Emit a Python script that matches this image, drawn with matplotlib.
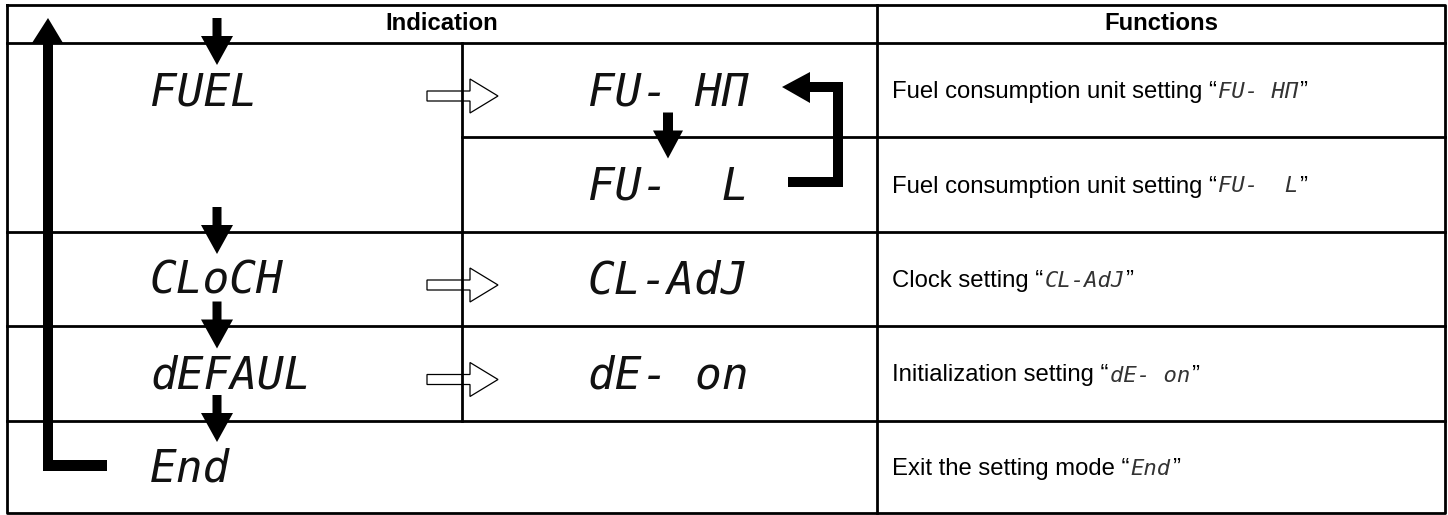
import matplotlib
matplotlib.use("Agg")
import matplotlib.pyplot as plt
from matplotlib.patches import Polygon

# table content
headers = ["Indication", "Functions"]
menu_codes = ["FUEL", "CLoCH", "dEFAUL", "End"]
menu_rows = [0, 2, 3, 4]
sub_codes = ["FU- HΠ", "FU-  L", "CL-AdJ", "dE- on"]
sub_rows = [0, 1, 2, 3]
func_texts = ["Fuel consumption unit setting",
              "Fuel consumption unit setting",
              "Clock setting",
              "Initialization setting",
              "Exit the setting mode"]
func_codes = ["FU- HΠ", "FU-  L", "CL-AdJ", "dE- on", "End"]
hollow_rows = [0, 2, 3]

# layout (pixels)
W, H = 1448, 515
x_left, x_mid, x_func, x_right = 7, 462, 877, 1445
y_top, y_head = 5, 43
row_lines = [43, 137, 232, 326, 421, 513]
row_c = [(a + b) / 2 for a, b in zip(row_lines[:-1], row_lines[1:])]

body_font = "Liberation Sans"
lcd_font = "DejaVu Sans Mono"
body_size = 17.2

fig = plt.figure(figsize=(W / 100, H / 100), dpi=100)
ax = fig.add_axes([0, 0, 1, 1])
ax.set_xlim(0, W)
ax.set_ylim(H, 0)
ax.axis("off")

lw = 2.0
# frame and grid
ax.plot([x_left, x_right, x_right, x_left, x_left],
        [y_top, y_top, row_lines[-1], row_lines[-1], y_top], color="black", lw=lw)
ax.plot([x_left, x_right], [y_head, y_head], color="black", lw=lw)
ax.plot([x_func, x_func], [y_top, row_lines[-1]], color="black", lw=lw)
for y in row_lines[2:-1]:
    ax.plot([x_left, x_right], [y, y], color="black", lw=lw)
ax.plot([x_mid, x_right], [row_lines[1], row_lines[1]], color="black", lw=lw)
ax.plot([x_mid, x_mid], [y_head, row_lines[4]], color="black", lw=lw)

# headers
ax.text((x_left + x_func) / 2, 24, headers[0], ha="center", va="center",
        fontsize=body_size, fontweight="bold", family=body_font)
ax.text((x_func + x_right) / 2, 24, headers[1], ha="center", va="center",
        fontsize=body_size, fontweight="bold", family=body_font)

# LCD style codes
for code, r in zip(menu_codes, menu_rows):
    ax.text(150, row_c[r] + 15, code, ha="left", va="baseline", fontsize=32,
            family=lcd_font, style="oblique", color="#111111")
for code, r in zip(sub_codes, sub_rows):
    ax.text(588, row_c[r] + 15, code, ha="left", va="baseline", fontsize=32,
            family=lcd_font, style="oblique", color="#111111")


def down_arrow(x, tip, length=47, head=29, shaft_w=9, head_w=32):
    top = tip - length
    base = tip - head
    pts = [(x - shaft_w / 2, top), (x + shaft_w / 2, top), (x + shaft_w / 2, base),
           (x + head_w / 2, base), (x, tip), (x - head_w / 2, base),
           (x - shaft_w / 2, base)]
    ax.add_patch(Polygon(pts, closed=True, facecolor="black", edgecolor="none"))


for r in menu_rows:
    down_arrow(217, row_c[r] - 25)
down_arrow(668, row_c[1] - 26, length=46, head=28, shaft_w=10, head_w=30)

# hollow arrows to sub menus
for r in hollow_rows:
    yc = row_c[r] + 6
    pts = [(427, yc - 5), (470, yc - 5), (470, yc - 17), (498, yc),
           (470, yc + 17), (470, yc + 5), (427, yc + 5)]
    ax.add_patch(Polygon(pts, closed=True, facecolor="white", edgecolor="black", lw=0.9))

# return arrow on the left
ret = [(48, 18), (63, 43), (53, 43), (53, 460), (107, 460), (107, 471),
       (43, 471), (43, 43), (32, 43)]
ax.add_patch(Polygon(ret, closed=True, facecolor="black", edgecolor="none"))

# loop arrow between FU- HΠ and FU- L
loop = [(782, 87), (810, 72), (810, 82), (843, 82), (843, 187), (788, 187),
        (788, 177), (833, 177), (833, 92), (810, 92), (810, 103)]
ax.add_patch(Polygon(loop, closed=True, facecolor="black", edgecolor="none"))

# functions column
fig.canvas.draw()
renderer = fig.canvas.get_renderer()
inv = ax.transData.inverted()
for txt, code, yc in zip(func_texts, func_codes, row_c):
    base = yc + 8
    t = ax.text(892, base, txt + " \u201c", ha="left", va="baseline",
                fontsize=body_size, family=body_font)
    bb = t.get_window_extent(renderer)
    x1 = inv.transform((bb.x1, bb.y0))[0]
    c = ax.text(x1 + 1, base, code, ha="left", va="baseline", fontsize=16,
                family=lcd_font, style="oblique", color="#333333")
    bb2 = c.get_window_extent(renderer)
    x2 = inv.transform((bb2.x1, bb2.y0))[0]
    ax.text(x2 + 1, base, "\u201d", ha="left", va="baseline",
            fontsize=body_size, family=body_font)

fig.savefig("out.png", dpi=100)
